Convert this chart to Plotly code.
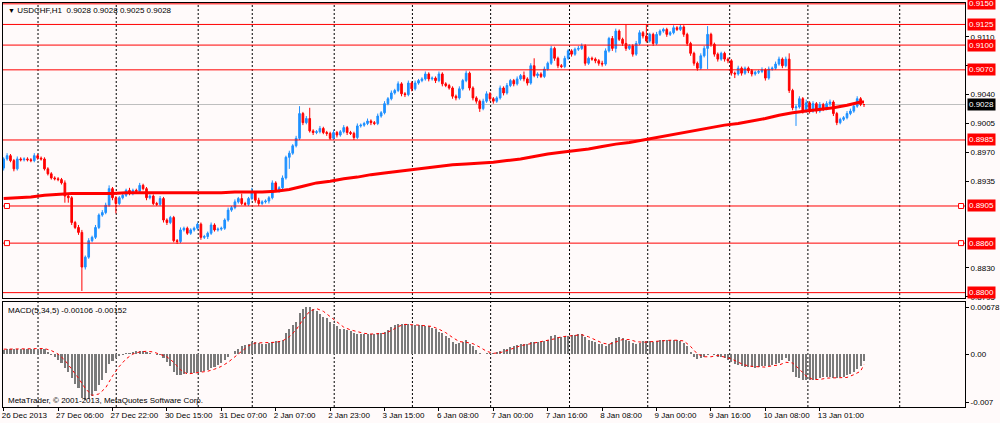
import plotly.graph_objects as go

# ---------------- data ----------------
close = [
    0.8962, 0.8966, 0.8960, 0.8950, 0.8962, 0.8961, 0.8962, 0.8961, 0.8960, 0.8966,  # 0-9
    0.8963, 0.8962, 0.8950, 0.8944, 0.8939, 0.8938, 0.8937, 0.8933, 0.8917, 0.8915,  # 10-19
    0.8885, 0.8879, 0.8873, 0.8831, 0.8843, 0.8863, 0.8867, 0.8879, 0.8894, 0.8897,  # 20-29
    0.8906, 0.8926, 0.8915, 0.8908, 0.8915, 0.8918, 0.8924, 0.8920, 0.8924, 0.8923,  # 30-39
    0.8930, 0.8926, 0.8915, 0.8917, 0.8908, 0.8907, 0.8914, 0.8888, 0.8885, 0.8891,  # 40-49
    0.8863, 0.8862, 0.8876, 0.8878, 0.8872, 0.8876, 0.8878, 0.8883, 0.8867, 0.8868,  # 50-59
    0.8872, 0.8882, 0.8876, 0.8877, 0.8878, 0.8888, 0.8900, 0.8903, 0.8910, 0.8914,  # 60-69
    0.8908, 0.8907, 0.8914, 0.8921, 0.8912, 0.8908, 0.8910, 0.8911, 0.8915, 0.8933,  # 70-79
    0.8924, 0.8927, 0.8939, 0.8964, 0.8969, 0.8978, 0.8987, 0.9017, 0.9006, 0.9011,  # 80-89
    0.8996, 0.8994, 0.8995, 0.8999, 0.8994, 0.8993, 0.8987, 0.8994, 0.8991, 0.8995,  # 90-99
    0.9000, 0.8994, 0.8993, 0.8988, 0.9002, 0.9003, 0.9005, 0.9008, 0.9006, 0.9005,  # 100-109
    0.9014, 0.9018, 0.9029, 0.9035, 0.9042, 0.9045, 0.9053, 0.9041, 0.9040, 0.9054,  # 110-119
    0.9047, 0.9054, 0.9057, 0.9059, 0.9065, 0.9059, 0.9060, 0.9057, 0.9065, 0.9053,  # 120-129
    0.9051, 0.9048, 0.9038, 0.9036, 0.9047, 0.9057, 0.9066, 0.9048, 0.9036, 0.9032,  # 130-139
    0.9023, 0.9032, 0.9041, 0.9035, 0.9032, 0.9036, 0.9048, 0.9042, 0.9051, 0.9057,  # 140-149
    0.9053, 0.9059, 0.9063, 0.9059, 0.9054, 0.9075, 0.9063, 0.9065, 0.9062, 0.9071,  # 150-159
    0.9078, 0.9096, 0.9084, 0.9075, 0.9074, 0.9084, 0.9093, 0.9089, 0.9095, 0.9096,  # 160-169
    0.9099, 0.9078, 0.9084, 0.9083, 0.9081, 0.9078, 0.9077, 0.9093, 0.9108, 0.9096,  # 170-179
    0.9117, 0.9107, 0.9102, 0.9096, 0.9099, 0.9089, 0.9102, 0.9115, 0.9111, 0.9105,  # 180-189
    0.9113, 0.9102, 0.9113, 0.9117, 0.9119, 0.9113, 0.9115, 0.9121, 0.9119, 0.9122,  # 190-199
    0.9113, 0.9102, 0.9090, 0.9078, 0.9072, 0.9087, 0.9096, 0.9113, 0.9101, 0.9089,  # 200-209
    0.9083, 0.9090, 0.9083, 0.9081, 0.9066, 0.9065, 0.9072, 0.9066, 0.9072, 0.9069,  # 210-219
    0.9065, 0.9067, 0.9068, 0.9070, 0.9060, 0.9071, 0.9072, 0.9077, 0.9083, 0.9075,  # 220-229
    0.9083, 0.9045, 0.9024, 0.9025, 0.9035, 0.9020, 0.9030, 0.9020, 0.9029, 0.9020,  # 230-239
    0.9028, 0.9023, 0.9029, 0.9031, 0.9017, 0.9006, 0.9010, 0.9012, 0.9017, 0.9020,  # 240-249
    0.9026, 0.9035, 0.9028, 0.9028,                                                  # 250-253
]
first_open = 0.8951

# wick lengths above / below the body, in pips (0.0001)
wick_up_pips = [
    2, 3, 2, 2, 3, 2, 2, 2, 2, 3,
    2, 2, 2, 2, 2, 2, 2, 2, 3, 2,
    2, 2, 3, 3, 2, 3, 2, 3, 2, 3,
    3, 4, 2, 2, 2, 3, 2, 3, 2, 2,
    3, 2, 2, 2, 2, 2, 3, 2, 2, 2,
    2, 2, 3, 2, 2, 2, 2, 2, 2, 2,
    2, 3, 2, 2, 2, 2, 3, 2, 3, 2,
    6, 2, 2, 6, 2, 3, 2, 2, 2, 3,
    2, 2, 3, 2, 3, 2, 3, 9, 2, 3,
    13, 2, 2, 3, 2, 2, 2, 3, 2, 2,
    3, 2, 2, 2, 3, 2, 2, 3, 2, 2,
    3, 2, 3, 2, 3, 2, 3, 2, 2, 3,
    2, 3, 2, 2, 3, 2, 2, 2, 3, 2,
    2, 2, 2, 2, 3, 2, 3, 2, 2, 2,
    2, 3, 3, 2, 2, 2, 3, 2, 3, 2,
    2, 3, 2, 5, 2, 3, 9, 2, 2, 3,
    2, 3, 2, 2, 2, 3, 2, 2, 2, 3,
    3, 2, 2, 2, 2, 2, 3, 3, 2, 3,
    3, 2, 2, 23, 2, 2, 3, 3, 2, 14,
    2, 2, 3, 2, 2, 2, 2, 3, 2, 3,
    2, 2, 2, 2, 2, 3, 3, 10, 2, 2,
    2, 2, 2, 2, 2, 2, 3, 2, 2, 2,
    2, 2, 2, 3, 2, 3, 2, 3, 3, 2,
    3, 7, 2, 3, 3, 2, 4, 2, 3, 2,
    3, 2, 3, 3, 2, 2, 2, 2, 3, 3,
    3, 3, 2, 0,
]
wick_dn_pips = [
    3, 2, 2, 3, 2, 2, 2, 2, 2, 2,
    2, 2, 2, 2, 2, 2, 2, 2, 8, 6,
    3, 2, 3, 29, 3, 2, 2, 2, 2, 2,
    2, 2, 3, 12, 2, 2, 2, 2, 2, 2,
    2, 2, 3, 2, 2, 2, 2, 3, 3, 2,
    2, 3, 2, 2, 2, 2, 2, 2, 3, 2,
    3, 2, 2, 2, 2, 2, 2, 2, 2, 2,
    2, 2, 2, 2, 3, 3, 2, 2, 3, 2,
    2, 3, 2, 2, 14, 2, 2, 2, 3, 2,
    2, 3, 2, 2, 2, 3, 2, 2, 3, 2,
    2, 3, 2, 3, 2, 2, 2, 2, 3, 2,
    2, 2, 2, 2, 2, 2, 2, 3, 3, 2,
    3, 2, 2, 2, 2, 3, 2, 3, 2, 3,
    2, 2, 3, 3, 2, 2, 2, 3, 3, 3,
    4, 2, 2, 3, 3, 2, 2, 3, 2, 2,
    3, 2, 2, 3, 3, 2, 2, 3, 2, 2,
    2, 2, 3, 3, 2, 2, 2, 3, 2, 2,
    2, 3, 2, 2, 3, 3, 3, 2, 2, 3,
    5, 2, 3, 3, 2, 3, 2, 2, 3, 2,
    2, 3, 2, 2, 2, 3, 2, 2, 2, 2,
    3, 3, 3, 3, 3, 2, 2, 25, 3, 3,
    3, 2, 3, 3, 3, 5, 2, 3, 2, 3,
    3, 2, 2, 2, 3, 2, 2, 2, 2, 3,
    2, 3, 3, 22, 2, 3, 2, 3, 2, 3,
    2, 3, 2, 3, 3, 3, 2, 2, 2, 2,
    2, 2, 2, 3,
]

# moving average (thick red line), sampled every 4 bars
ma_bars = [0, 4, 8, 12, 16, 20, 24, 28, 32, 36, 40, 44, 48, 52, 56, 60, 64, 68, 72, 76,
           80, 84, 88, 92, 96, 100, 104, 108, 112, 116, 120, 124, 128, 132, 136, 140, 144, 148, 152, 156,
           160, 164, 168, 172, 176, 180, 184, 188, 192, 196, 200, 204, 208, 212, 216, 220, 224, 228, 232, 236,
           240, 244, 248, 252, 253]
ma_values = [0.8914, 0.8915, 0.8916, 0.8918, 0.8919, 0.8920, 0.8920, 0.8920, 0.8920, 0.8921,
             0.8921, 0.8921, 0.8921, 0.8921, 0.8921, 0.8921, 0.8921, 0.8922, 0.8922, 0.8922,
             0.8923, 0.8925, 0.8929, 0.8933, 0.8935, 0.8938, 0.8940, 0.8943, 0.8945, 0.8947,
             0.8949, 0.8951, 0.8953, 0.8955, 0.8956, 0.8957, 0.8958, 0.8960, 0.8962, 0.8965,
             0.8968, 0.8970, 0.8972, 0.8974, 0.8977, 0.8980, 0.8982, 0.8985, 0.8988, 0.8991,
             0.8994, 0.8997, 0.9000, 0.9003, 0.9005, 0.9008, 0.9011, 0.9015, 0.9018, 0.9020,
             0.9022, 0.9024, 0.9027, 0.9031, 0.9031]

macd_hist = [
    0.0006, 0.0007, 0.0007, 0.0008, 0.0008, 0.0008, 0.0008, 0.0008, 0.0008, 0.0008,
    0.0008, 0.0008, 0.0007, 0.0003, -0.0001, -0.0004, -0.0008, -0.0013, -0.0021, -0.0026,
    -0.0035, -0.0043, -0.0050, -0.0064, -0.0067, -0.0066, -0.0061, -0.0053, -0.0045, -0.0038,
    -0.0028, -0.0015, -0.0010, -0.0006, -0.0003, -0.0001, 0.0002, 0.0002, 0.0003, 0.0004,
    0.0005, 0.0005, 0.0003, 0.0002, 0.0000, -0.0001, -0.0002, -0.0006, -0.0011, -0.0017,
    -0.0026, -0.0030, -0.0030, -0.0029, -0.0028, -0.0028, -0.0027, -0.0026, -0.0026, -0.0025,
    -0.0023, -0.0021, -0.0019, -0.0016, -0.0013, -0.0009, -0.0004, 0.0000, 0.0004, 0.0008,
    0.0011, 0.0013, 0.0015, 0.0017, 0.0017, 0.0016, 0.0015, 0.0015, 0.0016, 0.0018,
    0.0019, 0.0019, 0.0020, 0.0031, 0.0037, 0.0042, 0.0047, 0.0060, 0.0065, 0.0068,
    0.0068, 0.0066, 0.0063, 0.0058, 0.0054, 0.0052, 0.0047, 0.0044, 0.0040, 0.0037,
    0.0036, 0.0035, 0.0034, 0.0031, 0.0029, 0.0029, 0.0029, 0.0029, 0.0029, 0.0029,
    0.0030, 0.0031, 0.0032, 0.0035, 0.0039, 0.0042, 0.0043, 0.0043, 0.0043, 0.0043,
    0.0042, 0.0042, 0.0042, 0.0042, 0.0041, 0.0040, 0.0038, 0.0036, 0.0032, 0.0030,
    0.0026, 0.0023, 0.0018, 0.0015, 0.0016, 0.0018, 0.0020, 0.0015, 0.0011, 0.0006,
    0.0001, 0.0000, 0.0001, 0.0002, 0.0001, 0.0003, 0.0004, 0.0007, 0.0008, 0.0010,
    0.0012, 0.0013, 0.0015, 0.0015, 0.0015, 0.0018, 0.0018, 0.0018, 0.0018, 0.0019,
    0.0021, 0.0026, 0.0027, 0.0025, 0.0025, 0.0026, 0.0026, 0.0027, 0.0028, 0.0029,
    0.0029, 0.0025, 0.0021, 0.0019, 0.0018, 0.0015, 0.0014, 0.0012, 0.0015, 0.0018,
    0.0023, 0.0024, 0.0023, 0.0021, 0.0019, 0.0016, 0.0015, 0.0016, 0.0019, 0.0019,
    0.0019, 0.0018, 0.0019, 0.0020, 0.0020, 0.0020, 0.0020, 0.0020, 0.0020, 0.0019,
    0.0016, 0.0012, 0.0003, -0.0004, -0.0007, -0.0006, -0.0004, -0.0001, 0.0000, -0.0001,
    -0.0004, -0.0005, -0.0006, -0.0008, -0.0011, -0.0015, -0.0016, -0.0018, -0.0019, -0.0019,
    -0.0019, -0.0020, -0.0019, -0.0018, -0.0018, -0.0017, -0.0016, -0.0015, -0.0013, -0.0009,
    -0.0006, -0.0010, -0.0026, -0.0034, -0.0035, -0.0037, -0.0038, -0.0038, -0.0037, -0.0036,
    -0.0035, -0.0034, -0.0034, -0.0034, -0.0035, -0.0035, -0.0034, -0.0033, -0.0031, -0.0029,
    -0.0026, -0.0022, -0.0018, -0.00106,
]

signal_bars = list(range(0, 253, 2)) + [253]
signal_values = [
    0.0007, 0.0007, 0.0007, 0.0008, 0.0008, 0.0008, 0.0008, 0.0005, 0.0000, -0.0009,
    -0.0022, -0.0035, -0.0050, -0.0060, -0.0058, -0.0049, -0.0032, -0.0018, -0.0007, 0.0000,
    0.0003, 0.0004, 0.0003, 0.0000, -0.0004, -0.0012, -0.0023, -0.0029, -0.0028, -0.0027,
    -0.0025, -0.0022, -0.0018, -0.0012, -0.0004, 0.0004, 0.0012, 0.0016, 0.0016, 0.0016,
    0.0017, 0.0019, 0.0025, 0.0035, 0.0050, 0.0062, 0.0066, 0.0062, 0.0054, 0.0046,
    0.0039, 0.0035, 0.0032, 0.0030, 0.0029, 0.0029, 0.0030, 0.0034, 0.0040, 0.0043,
    0.0043, 0.0042, 0.0041, 0.0040, 0.0036, 0.0031, 0.0024, 0.0018, 0.0017, 0.0015,
    0.0010, 0.0004, 0.0001, 0.0002, 0.0005, 0.0009, 0.0012, 0.0014, 0.0016, 0.0018,
    0.0019, 0.0022, 0.0025, 0.0026, 0.0027, 0.0028, 0.0025, 0.0021, 0.0016, 0.0014,
    0.0017, 0.0021, 0.0021, 0.0018, 0.0017, 0.0018, 0.0019, 0.0019, 0.0020, 0.0020,
    0.0019, 0.0011, 0.0000, -0.0004, -0.0004, -0.0002, -0.0004, -0.0007, -0.0012, -0.0016,
    -0.0018, -0.0019, -0.0019, -0.0017, -0.0016, -0.0012, -0.0013, -0.0022, -0.0032, -0.0037,
    -0.0037, -0.0035, -0.0035, -0.0035, -0.0034, -0.0030, -0.0025,
    -0.00152,
]

x_tick_bars = [0, 16, 32, 48, 64, 80, 96, 112, 128, 144, 160, 176, 192, 208, 224, 240]
x_tick_labels = ["26 Dec 2013", "27 Dec 06:00", "27 Dec 22:00", "30 Dec 15:00", "31 Dec 07:00",
                 "2 Jan 07:00", "2 Jan 23:00", "3 Jan 15:00", "6 Jan 08:00", "7 Jan 00:00",
                 "7 Jan 16:00", "8 Jan 08:00", "9 Jan 00:00", "9 Jan 16:00", "10 Jan 08:00",
                 "13 Jan 01:00"]
separator_bars = [10.1, 33.1, 57.2, 73.1, 97.2, 120.2, 143.2, 166.4, 189.4, 213.5, 236.5, 263.5]

price_ticks = [0.8795, 0.8830, 0.8935, 0.8970, 0.9005, 0.9040, 0.9075, 0.9110]
level_prices = [0.9150, 0.9125, 0.9100, 0.9070, 0.8985, 0.8905, 0.8860, 0.8800]
anchored_levels = [0.8905, 0.8860]
bid_price = 0.9028
macd_ticks = [0.00678, 0.0, -0.007]
macd_tick_text = ["0.00678", "0.00", "-0.007"]

header_text = "USDCHF,H1  0.9028 0.9028 0.9025 0.9028"
macd_text = "MACD(5,34,5) -0.00106 -0.00152"
copyright_text = "MetaTrader, © 2001-2013, MetaQuotes Software Corp."

# ---------------- derived OHLC ----------------
bars = list(range(len(close)))
opens = [first_open] + close[:-1]
highs = [max(o, c) + u * 0.0001 for o, c, u in zip(opens, close, wick_up_pips)]
lows = [min(o, c) - d * 0.0001 for o, c, d in zip(opens, close, wick_dn_pips)]

# ---------------- styling ----------------
BG = "#FFFAFA"
BLUE = "#1E90FF"
RED = "#FF0000"
FONT = "Liberation Sans"
FS = 8
X_RANGE = [-0.2, 282.7]
Y_MAIN = [0.87935, 0.91510]
Y_MACD = [-0.00769, 0.00755]
MAIN_DOMAIN = [0.2698, 1.0]
MACD_DOMAIN = [0.0, 0.2599]

fig = go.Figure()

fig.add_trace(go.Candlestick(
    x=bars, open=opens, high=highs, low=lows, close=close,
    increasing=dict(line=dict(color=BLUE, width=1), fillcolor=BLUE),
    decreasing=dict(line=dict(color=RED, width=1), fillcolor=RED),
    whiskerwidth=0, xaxis="x", yaxis="y", showlegend=False, hoverinfo="skip"))

fig.add_trace(go.Scatter(
    x=ma_bars, y=ma_values, mode="lines", line=dict(color=RED, width=3),
    xaxis="x", yaxis="y", showlegend=False, hoverinfo="skip"))

fig.add_trace(go.Bar(
    x=bars, y=macd_hist, width=0.6, marker=dict(color="#7A7A7A", line=dict(width=0)),
    xaxis="x2", yaxis="y2", showlegend=False, hoverinfo="skip"))

fig.add_trace(go.Scatter(
    x=signal_bars, y=signal_values, mode="lines", line=dict(color=RED, width=1, dash="dot"),
    xaxis="x2", yaxis="y2", showlegend=False, hoverinfo="skip"))

shapes = []
for b in separator_bars:
    shapes.append(dict(type="line", xref="x", yref="paper", x0=b, x1=b, y0=0, y1=1,
                       line=dict(color="black", width=1, dash="2px,2px"), layer="below"))
for p in level_prices:
    shapes.append(dict(type="line", xref="paper", yref="y", x0=0, x1=1, y0=p, y1=p,
                       line=dict(color=RED, width=1), layer="above"))
shapes.append(dict(type="line", xref="paper", yref="y", x0=0, x1=1, y0=bid_price, y1=bid_price,
                   line=dict(color="#BEBEBE", width=1), layer="below"))
sq_w = 5 / 962.0
sq_h = 2.5 / 8286.0
for p in anchored_levels:
    for x0 in (0.0015, 1 - sq_w - 0.0015):
        shapes.append(dict(type="rect", xref="paper", yref="y", x0=x0, x1=x0 + sq_w,
                           y0=p - sq_h, y1=p + sq_h, line=dict(color=RED, width=1),
                           fillcolor="white", layer="above"))

annotations = []
for p in level_prices:
    annotations.append(dict(xref="paper", yref="y", x=1, y=p, xanchor="left", yanchor="middle",
                            xshift=2, text="%.4f" % p, showarrow=False, bgcolor=RED,
                            font=dict(family=FONT, size=FS, color="white"), borderpad=1))
annotations.append(dict(xref="paper", yref="y", x=1, y=bid_price, xanchor="left", yanchor="middle",
                        xshift=2, text="%.4f" % bid_price, showarrow=False, bgcolor="black",
                        font=dict(family=FONT, size=FS, color="white"), borderpad=1))
annotations.append(dict(xref="paper", yref="paper", x=0, y=1, xanchor="left", yanchor="top",
                        xshift=3, yshift=-1, showarrow=False,
                        text="<span style='font-size:7px'>▼</span> " + header_text,
                        font=dict(family=FONT, size=FS, color="black")))
annotations.append(dict(xref="paper", yref="paper", x=0, y=MACD_DOMAIN[1], xanchor="left", yanchor="top",
                        xshift=3, yshift=-2, showarrow=False, text=macd_text,
                        font=dict(family=FONT, size=FS, color="black")))
annotations.append(dict(xref="paper", yref="paper", x=0, y=0, xanchor="left", yanchor="bottom",
                        xshift=3, yshift=0, showarrow=False, text=copyright_text,
                        font=dict(family=FONT, size=FS, color="black")))

axis_common = dict(showgrid=False, zeroline=False, showline=True, linecolor="black",
                   linewidth=1, mirror=True, automargin=False)
tickfont = dict(family=FONT, size=FS, color="black")

fig.update_layout(
    width=1000, height=423, autosize=False,
    margin=dict(l=3, r=35, t=3, b=16, pad=0),
    paper_bgcolor=BG, plot_bgcolor=BG,
    showlegend=False, bargap=0,
    font=dict(family=FONT, size=FS, color="black"),
    shapes=shapes, annotations=annotations,
    xaxis=dict(domain=[0, 1], anchor="y", range=X_RANGE, showticklabels=False, ticks="",
               rangeslider=dict(visible=False), matches="x2", **axis_common),
    yaxis=dict(domain=MAIN_DOMAIN, anchor="x", side="right", range=Y_MAIN,
               tickvals=price_ticks, tickformat=".4f", ticks="outside", ticklen=3,
               tickcolor="black", tickfont=tickfont, **axis_common),
    xaxis2=dict(domain=[0, 1], anchor="y2", range=X_RANGE, tickvals=x_tick_bars,
                ticktext=x_tick_labels, ticks="outside", ticklen=3, tickcolor="black",
                ticklabelposition="outside right", tickangle=0, ticklabelshift=-3,
                tickfont=tickfont, **axis_common),
    yaxis2=dict(domain=MACD_DOMAIN, anchor="x2", side="right", range=Y_MACD,
                tickvals=macd_ticks, ticktext=macd_tick_text, ticks="outside", ticklen=3,
                tickcolor="black", tickfont=tickfont, **axis_common),
)

fig.write_html("out.html", config={"displayModeBar": False, "staticPlot": True},
               post_script="document.body.style.margin='0px';document.body.style.overflow='hidden';")
